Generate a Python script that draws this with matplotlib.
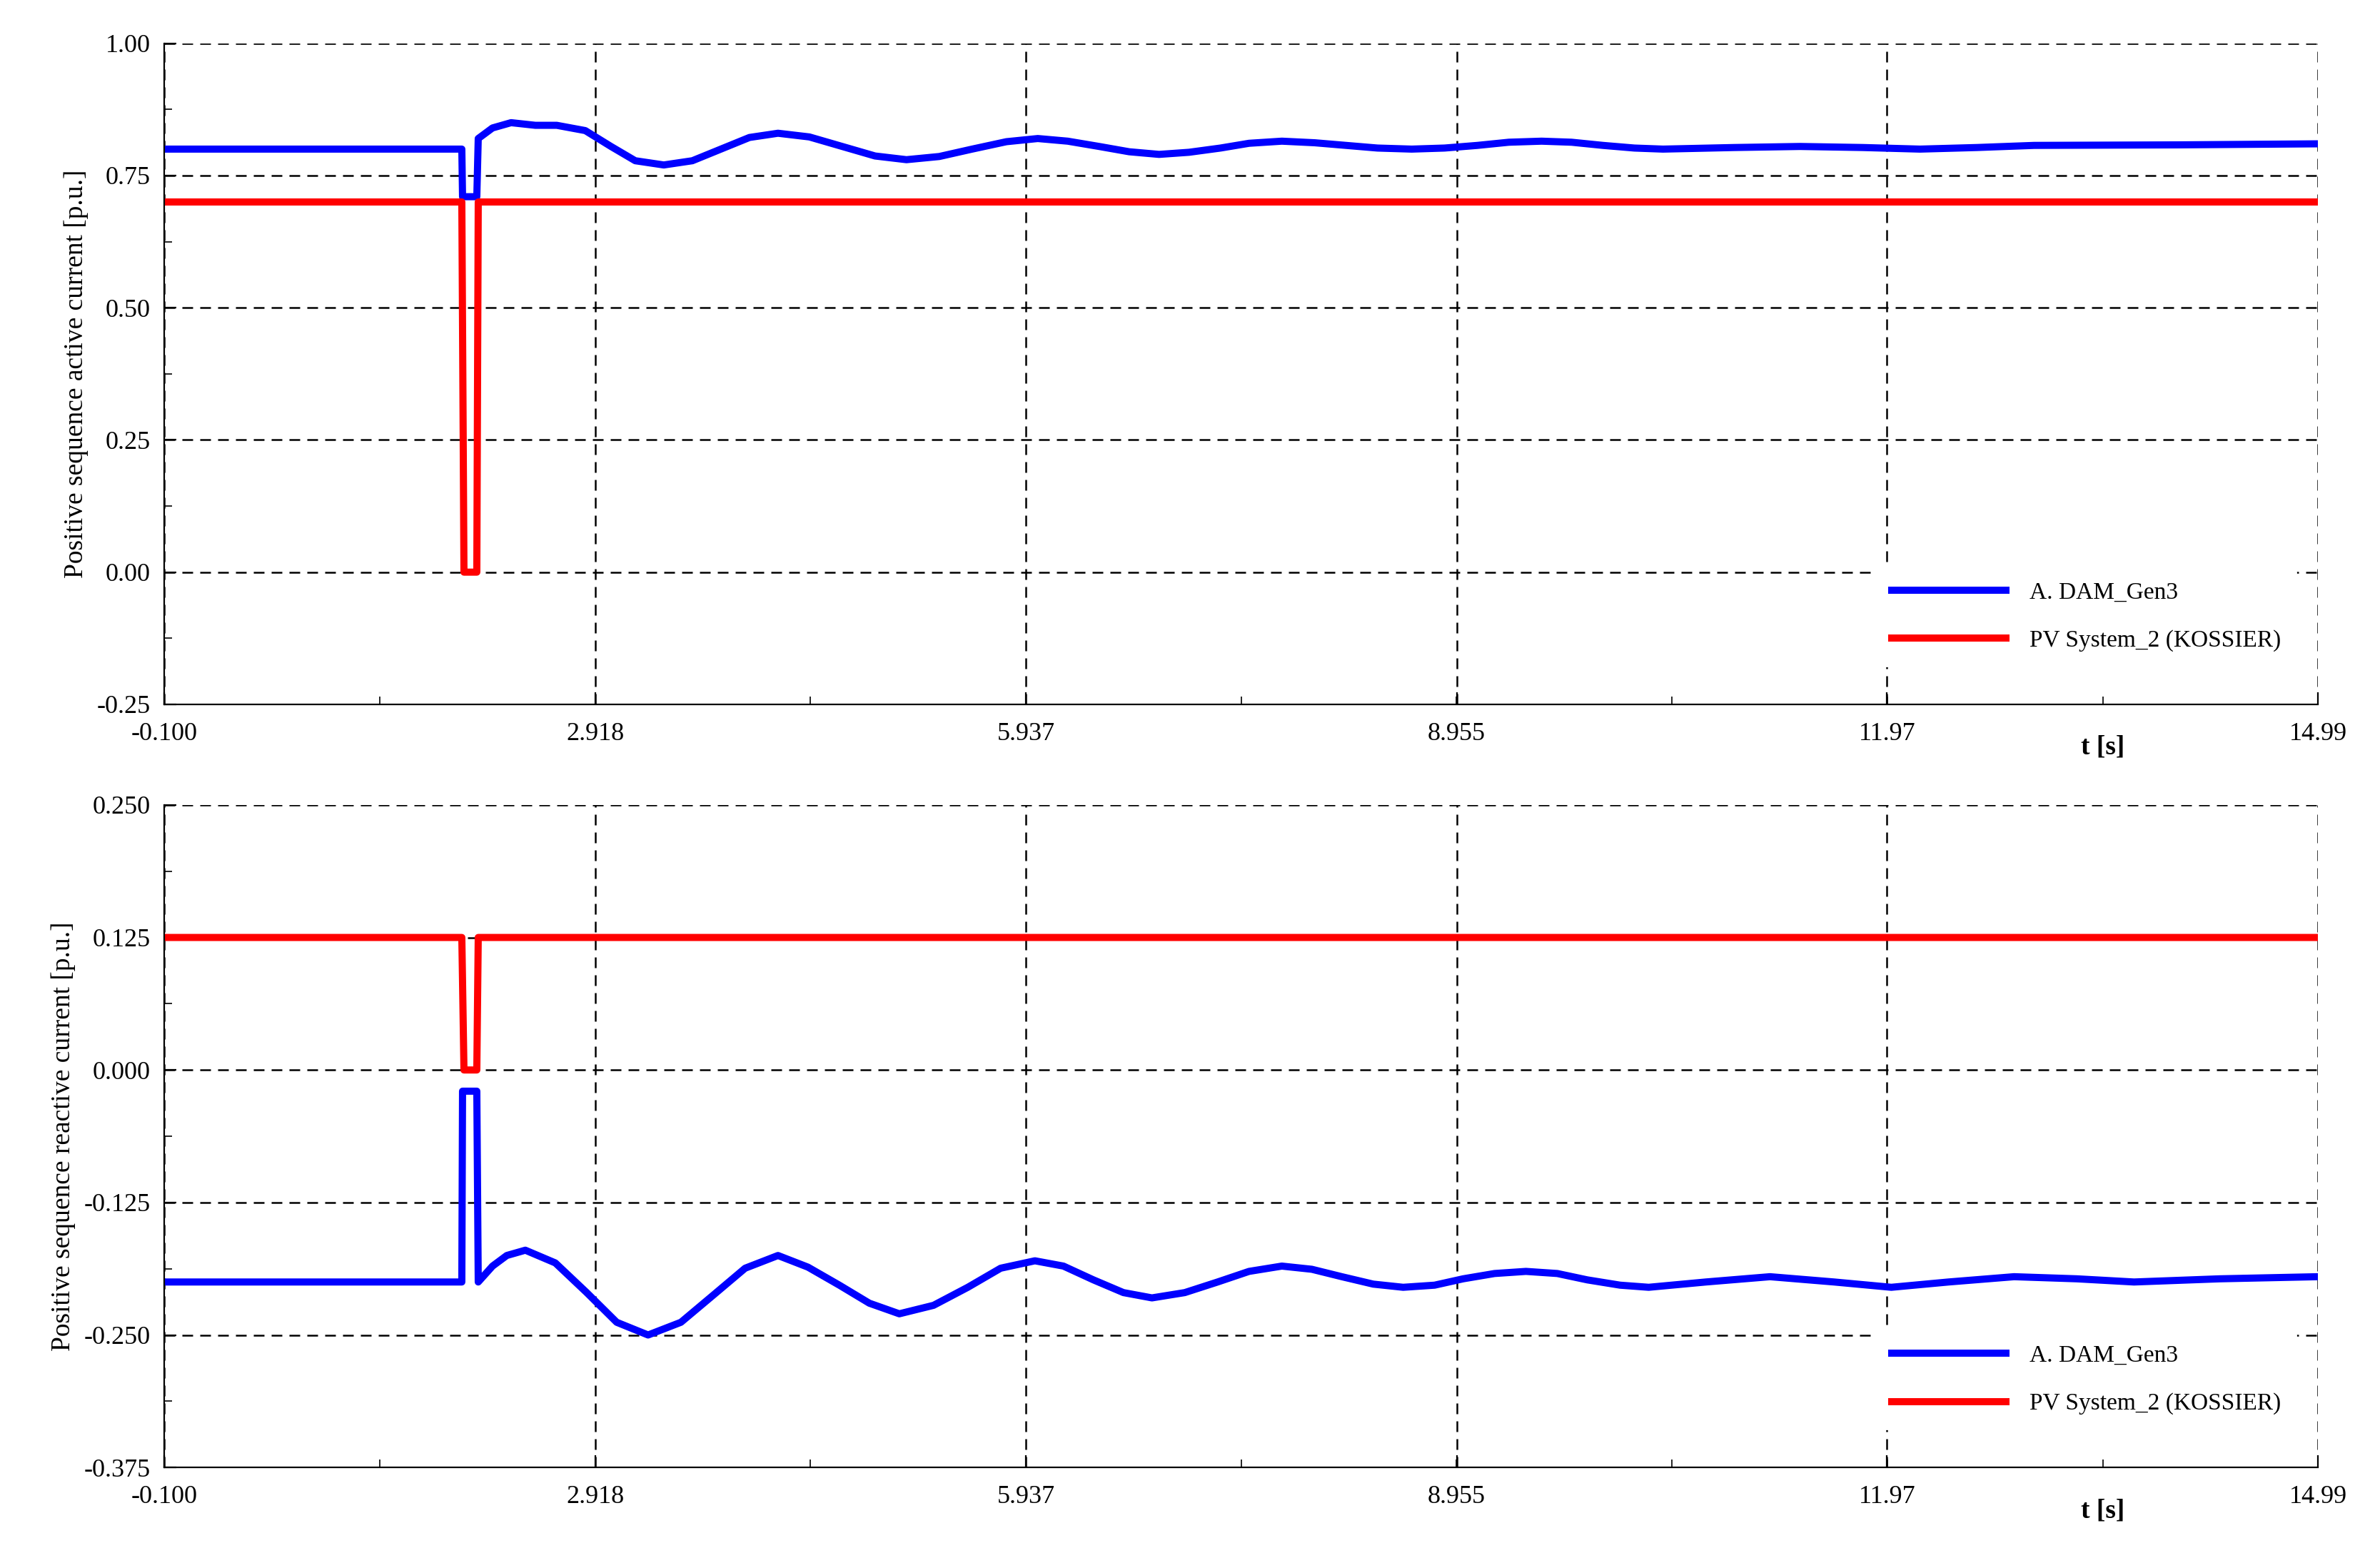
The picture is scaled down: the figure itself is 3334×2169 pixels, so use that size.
import numpy as np
import matplotlib.pyplot as plt
from matplotlib.ticker import AutoMinorLocator

plt.rcParams['font.family'] = ['Liberation Serif', 'DejaVu Serif']

# top panel: active current
t_act = [-0.1, 1.985, 1.99, 2.09, 2.1, 2.2, 2.33, 2.5, 2.65, 2.85, 3.03, 3.2, 3.4, 3.6, 3.8, 4.0, 4.2,
         4.42, 4.65, 4.88, 5.1, 5.33, 5.56, 5.8, 6.02, 6.23, 6.45, 6.66, 6.87, 7.08, 7.3, 7.5, 7.73,
         7.96, 8.18, 8.4, 8.64, 8.87, 9.1, 9.32, 9.55, 9.76, 9.98, 10.2, 10.4, 10.9, 11.36, 11.8,
         12.2, 12.6, 13.0, 14.0, 14.99]
i_act = [0.80, 0.80, 0.71, 0.71, 0.82, 0.84, 0.85, 0.845, 0.845, 0.835, 0.805, 0.778, 0.77, 0.778, 0.80, 0.822, 0.83,
         0.823, 0.805, 0.787, 0.78, 0.786, 0.80, 0.814, 0.82, 0.815, 0.805, 0.795, 0.79, 0.794, 0.802, 0.811, 0.815,
         0.812, 0.807, 0.802, 0.80, 0.802, 0.807, 0.813, 0.815, 0.813, 0.807, 0.802, 0.80, 0.803, 0.805, 0.803,
         0.80, 0.803, 0.807, 0.808, 0.81]
t_pv = [-0.1, 1.985, 2.0, 2.09, 2.1, 14.99]
i_pv_act = [0.70, 0.70, 0.0, 0.0, 0.70, 0.70]

# bottom panel: reactive current
t_rea = [-0.1, 1.985, 1.99, 2.09, 2.1, 2.2, 2.3, 2.43, 2.64, 2.86, 3.07, 3.29, 3.52, 3.75, 3.97, 4.2,
         4.41, 4.63, 4.84, 5.05, 5.29, 5.53, 5.76, 6.0, 6.2, 6.41, 6.62, 6.82, 7.05, 7.28, 7.5, 7.73,
         7.94, 8.15, 8.37, 8.58, 8.8, 9.0, 9.22, 9.44, 9.66, 9.87, 10.1, 10.3, 10.7, 11.15, 11.6,
         12.0, 12.4, 12.86, 13.3, 13.7, 14.3, 14.99]
i_rea = [-0.20, -0.20, -0.02, -0.02, -0.20, -0.185, -0.175, -0.17, -0.182, -0.21, -0.238, -0.25, -0.238, -0.212, -0.187, -0.175,
         -0.186, -0.203, -0.22, -0.23, -0.222, -0.205, -0.187, -0.18, -0.185, -0.198, -0.21, -0.215, -0.21, -0.20, -0.19, -0.185,
         -0.188, -0.195, -0.202, -0.205, -0.203, -0.197, -0.192, -0.19, -0.192, -0.198, -0.203, -0.205, -0.2, -0.195, -0.2,
         -0.205, -0.2, -0.195, -0.197, -0.2, -0.197, -0.195]
i_pv_rea = [0.125, 0.125, 0.0, 0.0, 0.125, 0.125]

xticks = [-0.1, 2.918, 5.937, 8.955, 11.97, 14.99]
xlabels = ['-0.100', '2.918', '5.937', '8.955', '11.97', '14.99']

fig = plt.figure(figsize=(16.67, 10.845), dpi=200)
ax1 = fig.add_axes([0.069, 0.545, 0.905, 0.427])
ax2 = fig.add_axes([0.069, 0.052, 0.905, 0.428])

def style(ax, ylim, yt, ylab, ylabels):
    ax.set_xlim(-0.1, 14.99)
    ax.set_ylim(*ylim)
    ax.set_xticks(xticks)
    ax.set_xticklabels(xlabels)
    ax.set_yticks(yt)
    ax.set_yticklabels(ylabels)
    ax.xaxis.set_minor_locator(AutoMinorLocator(2))
    ax.yaxis.set_minor_locator(AutoMinorLocator(2))
    ax.tick_params(labelsize=13, direction='in', length=6)
    ax.tick_params(axis='x', pad=9)
    ax.tick_params(axis='y', pad=7)
    ax.tick_params(which='minor', direction='in', length=4)
    ax.grid(True, which='major', color='black', linestyle=(0, (6, 4)), linewidth=0.9)
    ax.spines['top'].set_visible(False)
    ax.spines['right'].set_visible(False)
    ax.set_ylabel(ylab, fontsize=13.5)
    ax.text(0.90, -0.065, 't [s]', transform=ax.transAxes, fontsize=13.5, ha='center', va='center',
            fontweight='bold')

ax1.plot(t_act, i_act, color='#0000ff', linewidth=3.6, label='A. DAM_Gen3')
ax1.plot(t_pv, i_pv_act, color='#ff0000', linewidth=3.6, label='PV System_2 (KOSSIER)')
style(ax1, (-0.25, 1.0), [-0.25, 0, 0.25, 0.5, 0.75, 1.0],
      'Positive sequence active current [p.u.]', ['-0.25', '0.00', '0.25', '0.50', '0.75', '1.00'])

ax2.plot(t_rea, i_rea, color='#0000ff', linewidth=3.6, label='A. DAM_Gen3')
ax2.plot(t_pv, i_pv_rea, color='#ff0000', linewidth=3.6, label='PV System_2 (KOSSIER)')
style(ax2, (-0.375, 0.25), [-0.375, -0.25, -0.125, 0, 0.125, 0.25],
      'Positive sequence reactive current [p.u.]',
      ['-0.375', '-0.250', '-0.125', '0.000', '0.125', '0.250'])

for ax in (ax1, ax2):
    leg = ax.legend(loc='lower right', bbox_to_anchor=(0.995, 0.04), fontsize=12, frameon=True,
                    handlelength=4.8, handletextpad=1.0, labelspacing=1.1, borderpad=0.6)
    leg.get_frame().set_edgecolor('white')
    leg.get_frame().set_facecolor('white')
    leg.get_frame().set_alpha(1)

fig.savefig('out.png')
